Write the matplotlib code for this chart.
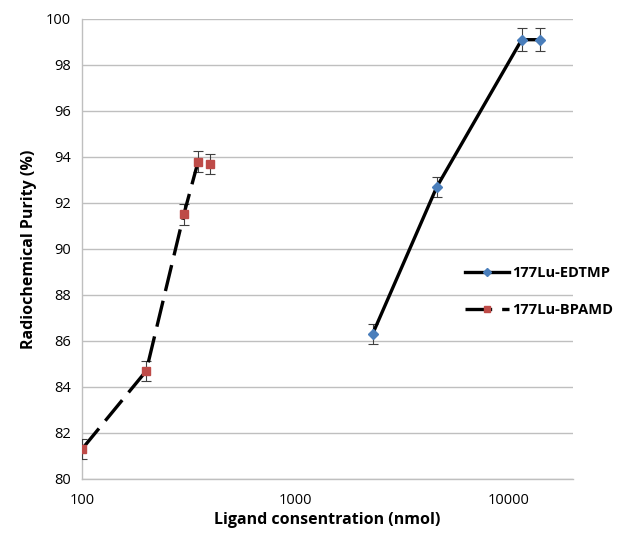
import numpy as np
import matplotlib.pyplot as plt
from matplotlib.lines import Line2D

plt.rcParams['font.family'] = ['Open Sans', 'DejaVu Sans']

# 177Lu-EDTMP
edtmp_x = [2300, 4600, 11500, 14000]
edtmp_y = [86.3, 92.7, 99.1, 99.1]
edtmp_err = [0.45, 0.45, 0.5, 0.5]

# 177Lu-BPAMD
bpamd_x = [100, 200, 300, 350, 400]
bpamd_y = [81.3, 84.7, 91.5, 93.8, 93.7]
bpamd_err = [0.45, 0.45, 0.45, 0.45, 0.45]

yticks = [80, 82, 84, 86, 88, 90, 92, 94, 96, 98, 100]
xticks = [100, 1000, 10000]

fig = plt.figure(figsize=(6.28, 5.35), dpi=100)
ax = fig.add_axes([0.1306, 0.1047, 0.7818, 0.8598])

ax.errorbar(edtmp_x, edtmp_y, yerr=edtmp_err, color='black', lw=2.4,
            marker='D', ms=5, mfc='#4a7ebb', mec='#4a7ebb',
            ecolor='#404040', elinewidth=0.8, capsize=3.5, capthick=0.8,
            zorder=3)
ax.errorbar(bpamd_x, bpamd_y, yerr=bpamd_err, color='black', lw=2.4,
            ls=(0, (8, 3)), marker='s', ms=6, mfc='#be4b48', mec='#be4b48',
            ecolor='#404040', elinewidth=0.8, capsize=3.5, capthick=0.8,
            zorder=3)

ax.set_xscale('log')
ax.set_xlim(100, 20000)
ax.set_ylim(80, 100)
ax.set_xticks(xticks)
ax.set_xticklabels([str(t) for t in xticks])
ax.xaxis.set_minor_locator(plt.NullLocator())
ax.set_yticks(yticks)
ax.tick_params(length=0, labelsize=10.5, colors='black', pad=8)
ax.tick_params(axis='x', pad=10)
ax.grid(axis='y', color='#bfbfbf', lw=1)
ax.set_axisbelow(True)
for s in ['top', 'right']:
    ax.spines[s].set_visible(False)
for s in ['left', 'bottom']:
    ax.spines[s].set_color('#bfbfbf')
    ax.spines[s].set_linewidth(1)

ax.set_xlabel('Ligand consentration (nmol)', fontsize=11.5, fontweight='bold', labelpad=3)
ax.set_ylabel('Radiochemical Purity (%)', fontsize=11.5, fontweight='bold', labelpad=6)

handles = [
    Line2D([], [], color='black', lw=2.4, marker='D', ms=4,
           mfc='#4a7ebb', mec='#4a7ebb'),
    Line2D([], [], color='black', lw=2.4, ls=(0, (8, 3)), marker='s', ms=5,
           mfc='#be4b48', mec='#be4b48'),
]
labels = ['177Lu-EDTMP', '177Lu-BPAMD']
fig.legend(handles, labels, loc='center left', bbox_to_anchor=(0.72, 0.455),
           frameon=False, prop={'weight': 'bold', 'size': 10.5},
           handlelength=3.0, handletextpad=0.2, labelspacing=1.6)

fig.savefig('out.png', dpi=100)
